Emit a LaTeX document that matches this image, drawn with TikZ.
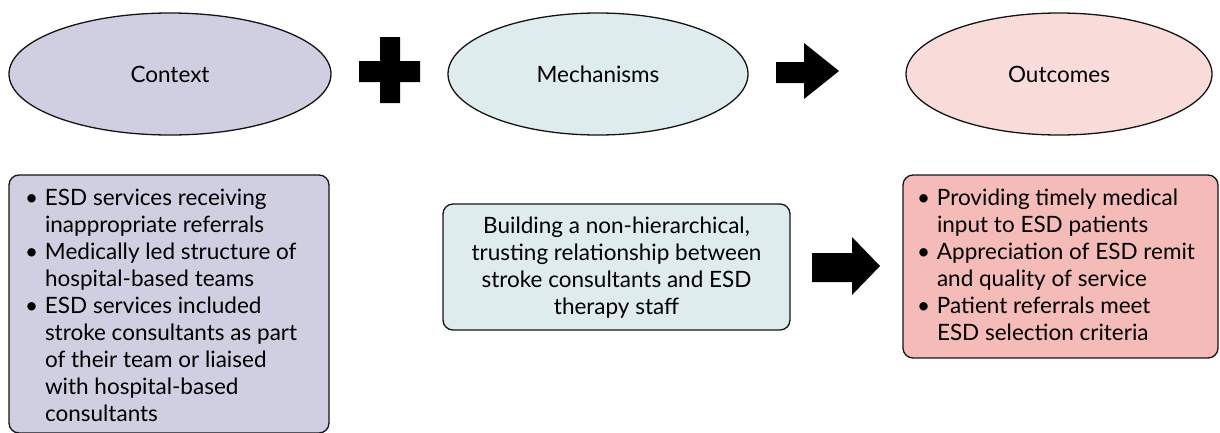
\documentclass[tikz,border=0pt]{standalone}
\usepackage{fontspec}
\setmainfont{Lato}
\usetikzlibrary{shapes.geometric}
\definecolor{ctxfill}{RGB}{208,207,225}
\definecolor{mechfill}{RGB}{222,236,238}
\definecolor{outfill}{RGB}{249,220,218}
\definecolor{outbox}{RGB}{244,187,184}
\definecolor{edge}{RGB}{20,20,20}
\tikzset{
  oval/.style={ellipse, draw=edge, line width=1.3pt, inner sep=0pt, outer sep=0pt, font=\fontsize{22.5}{27}\selectfont},
  card/.style={rectangle, draw=edge, line width=1.3pt, rounded corners=10pt, inner sep=0pt, outer sep=0pt},
  txt/.style={inner sep=0pt, outer sep=0pt, font=\fontsize{22.5}{27}\selectfont},
  blk/.style={fill=black, draw=none}
}
\newcommand{\bul}{\makebox[20pt][l]{\textbullet}}
\begin{document}
\begin{tikzpicture}[x=1pt,y=-1pt]
\useasboundingbox (0,0) rectangle (1220,432);
% ellipses
\node[oval, fill=ctxfill, minimum width=322pt, minimum height=122pt] (ctx) at (170,74) {Context};
\node[oval, fill=mechfill, minimum width=300pt, minimum height=122pt] (mech) at (598,74) {Mechanisms};
\node[oval, fill=outfill, minimum width=306pt, minimum height=122pt] (out) at (1059,74) {Outcomes};
% plus sign
\fill[blk] (380,37) -- (400,37) -- (400,61) -- (420,61) -- (420,82) -- (400,82) -- (400,103) -- (380,103) -- (380,82) -- (359,82) -- (359,61) -- (380,61) -- cycle;
% top arrow
\fill[blk] (776,62) -- (804,62) -- (804,43) -- (839,71) -- (804,99) -- (804,83) -- (776,83) -- cycle;
% bottom arrow
\fill[blk] (812,253) -- (852,253) -- (852,237) -- (880,266) -- (852,295) -- (852,282) -- (812,282) -- cycle;
% boxes
\node[card, fill=ctxfill, minimum width=320pt, minimum height=258pt] (ctxbox) at (169,304) {};
\node[card, fill=mechfill, minimum width=347pt, minimum height=126pt] (mechbox) at (616.5,267) {};
\node[card, fill=outbox, minimum width=315pt, minimum height=183pt] (outbx) at (1060.5,266.5) {};
% texts
\node[txt, anchor=north west] (ctxtxt) at (25,186.1) {\begin{tabular}{@{}l@{}l@{}}
\bul & ESD services receiving\\
 & inappropriate referrals\\
\bul & Medically led structure of\\
 & hospital-based teams\\
\bul & ESD services included\\
 & stroke consultants as part\\
 & of their team or liaised\\
 & with hospital-based\\
 & consultants
\end{tabular}};
\node[txt, anchor=north] (mechtxt) at (616.5,214.1) {\begin{tabular}{@{}c@{}}
Building a non-hierarchical,\\
trusting relationship between\\
stroke consultants and ESD\\
therapy staff
\end{tabular}};
\node[txt, anchor=north west] (outtxt) at (917,186.1) {\begin{tabular}{@{}l@{}l@{}}
\bul & Providing timely medical\\
 & input to ESD patients\\
\bul & Appreciation of ESD remit\\
 & and quality of service\\
\bul & Patient referrals meet\\
 & ESD selection criteria
\end{tabular}};
\end{tikzpicture}
\end{document}
